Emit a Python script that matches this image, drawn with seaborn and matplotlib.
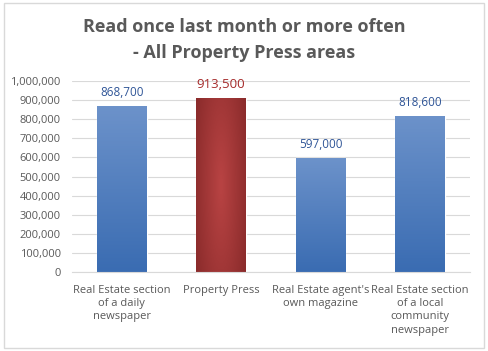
import seaborn as sns
import matplotlib.pyplot as plt
import numpy as np
import pandas as pd
from matplotlib.patches import Rectangle
from matplotlib.colors import LinearSegmentedColormap

categories = ['Real Estate section\nof a daily\nnewspaper', 'Property Press',
              "Real Estate agent's\nown magazine",
              'Real Estate section\nof a local\ncommunity\nnewspaper']
readers = [868700, 913500, 597000, 818600]
bar_colors = ['#4A7CC0', '#A43A3A', '#4A7CC0', '#4A7CC0']
label_colors = ['#2F5597', '#A52A2A', '#2F5597', '#2F5597']

df = pd.DataFrame({'cat': categories, 'readers': readers})

sns.set_style('white')
plt.rcParams['font.family'] = ['Open Sans', 'DejaVu Sans']

fig = plt.figure(figsize=(4.88, 3.51), dpi=100)
ax = fig.add_axes([0.1475, 0.225, 0.815, 0.544])

sns.barplot(data=df, x='cat', y='readers', hue='cat', palette=bar_colors,
            legend=False, width=0.5, ax=ax, saturation=1)

# gradient fill like the office chart
blue_cm = LinearSegmentedColormap.from_list('b', ['#3A6CB2', '#6C92CA'])
red_cm = LinearSegmentedColormap.from_list('r', ['#8A2B2B', '#B84343', '#8A2B2B'])
for i, p in enumerate(ax.patches):
    x0, y0, w, h = p.get_x(), p.get_y(), p.get_width(), p.get_height()
    if i == 1:
        xx, yy = np.meshgrid(np.linspace(-1, 1, 60), np.linspace(-1, 1, 60))
        grad = 1 - np.clip(np.sqrt(xx ** 2 + (yy * 0.6) ** 2) / 1.3, 0, 1)
        cm = LinearSegmentedColormap.from_list('r', ['#8A2B2B', '#B84343'])
    else:
        grad = np.linspace(0, 1, 100).reshape(-1, 1)
        cm = blue_cm
    im = ax.imshow(grad, cmap=cm, extent=(x0, x0 + w, y0, y0 + h),
                   origin='lower', aspect='auto', zorder=p.get_zorder())
    im.set_clip_path(p)
ax.set_xlim(-0.5, 3.5)

ax.set_ylim(0, 1000000)
ax.set_yticks(range(0, 1000001, 100000))
ax.set_yticklabels([f'{v:,}' for v in range(0, 1000001, 100000)])
ax.grid(axis='y', color='#D9D9D9', linewidth=0.8)
ax.set_axisbelow(True)
sns.despine(ax=ax, left=True)
ax.spines['bottom'].set_color('#D9D9D9')
ax.tick_params(axis='y', length=0, pad=8, labelsize=8, labelcolor='#595959')
ax.tick_params(axis='x', length=0, pad=9, labelsize=8, labelcolor='#595959')
for t in ax.get_xticklabels():
    t.set_linespacing(1.3)
ax.set_xlabel('')
ax.set_ylabel('')

for i, (v, c) in enumerate(zip(readers, label_colors)):
    ax.annotate(f'{v:,}', (i, v), xytext=(0, 5), textcoords='offset points',
                ha='center', va='bottom', color=c,
                fontsize=9.5 if i == 1 else 8.5)

fig.text(0.5, 0.886, 'Read once last month or more often\n- All Property Press areas',
         ha='center', va='center', fontsize=13, fontweight='bold',
         color='#595959', linespacing=1.6)

fig.patches.append(Rectangle((0.008, 0.008), 0.984, 0.984, transform=fig.transFigure,
                             fill=False, edgecolor='#D9D9D9', linewidth=1))

fig.savefig('out.png', dpi=100)
